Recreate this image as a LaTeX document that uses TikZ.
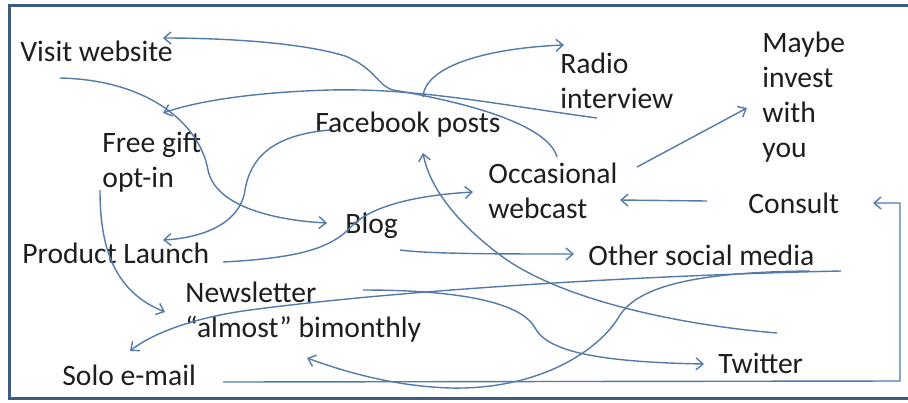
\documentclass[tikz,border=0pt]{standalone}
\usepackage{fontspec}
\setmainfont{Carlito}
\usetikzlibrary{arrows.meta}
\definecolor{rahmen}{RGB}{62,92,128}
\definecolor{linie}{RGB}{84,122,170}
\definecolor{schrift}{RGB}{30,30,30}
\tikzset{
  txt/.style={anchor=base west, inner sep=0pt, align=left, text=schrift,
    font=\fontsize{14.8pt}{17.5pt}\selectfont},
  link/.style={draw=linie, line width=0.7pt, -{Straight Barb[length=3.5pt,width=6pt]}},
}
\begin{document}
\begin{tikzpicture}[x=0.5pt, y=-0.5pt]
  \useasboundingbox (0,0) rectangle (908,402);
  % Rahmen
  \draw [rahmen, line width=1.5pt] (908,5) -- (9,5) -- (9,398) -- (908,398);
  % Begriffe (bei mehreren Zeilen: Grundlinie der letzten Zeile)
  \node [txt] (visit)    at ( 20, 61) {Visit website};
  \node [txt] (freegift) at (102,187) {Free gift\\opt-in};
  \node [txt] (facebook) at (315,132) {Facebook posts};
  \node [txt] (radio)    at (560,108) {Radio\\interview};
  \node [txt] (maybe)    at (762,157) {Maybe\\invest\\with\\you};
  \node [txt] (webcast)  at (488,218) {Occasional\\webcast};
  \node [txt] (consult)  at (748,213) {Consult};
  \node [txt] (blog)     at (345,233) {Blog};
  \node [txt] (launch)   at ( 22,263) {Product Launch};
  \node [txt] (social)   at (588,265) {Other social media};
  \node [txt] (news)     at (185,337) {Newsletter\\“almost” bimonthly};
  \node [txt] (solo)     at ( 62,385) {Solo e-mail};
  \node [txt] (twitter)  at (718,373) {Twitter};
  % Enden der Linien
  \coordinate (webcast-top) at (557,157);
  \coordinate (visit-in)    at (163, 38);
  \coordinate (radio-out)   at (597,118);
  \coordinate (gift-in)     at (163,113);
  \coordinate (fb-radio)    at (423, 97);
  \coordinate (radio-in)    at (564, 45);
  \coordinate (visit-out)   at ( 60, 78);
  \coordinate (blog-in)     at (327,223);
  \coordinate (fb-out)      at (330,130);
  \coordinate (launch-in)   at (163,240);
  \coordinate (launch-out)  at (223,262);
  \coordinate (webcast-in)  at (473,192);
  \coordinate (blog-out)    at (400,250);
  \coordinate (social-in)   at (574,254);
  \coordinate (twitter-out) at (777,333);
  \coordinate (fb-in)       at (423,153);
  \coordinate (webcast-out) at (637,167);
  \coordinate (maybe-in)    at (747,108);
  \coordinate (consult-out) at (707,201);
  \coordinate (webcast-r)   at (620,200);
  \coordinate (solo-out)    at (223,382);
  \coordinate (consult-in)  at (873,203);
  \coordinate (news-out)    at (363,290);
  \coordinate (twitter-in)  at (704,364);
  \coordinate (social-out)  at (841,271);
  \coordinate (solo-in)     at (130,351);
  \coordinate (social-out2) at (810,271);
  \coordinate (news-in)     at (307,358);
  \coordinate (gift-out)    at (100,190);
  \coordinate (news-l)      at (165,312);
  % Verbindungen
  \draw [link] (webcast-top) .. controls (548,125) and (470,103) .. (393,90)
    .. controls (378,86) and (375,68) .. (345,56)
    .. controls (300,42) and (220,38) .. (visit-in);
  \draw [link] (radio-out) .. controls (500,105) and (420,88) .. (330,90)
    .. controls (260,92) and (200,100) .. (gift-in);
  \draw [link] (fb-radio) .. controls (425,65) and (490,48) .. (radio-in);
  \draw [link] (visit-out) .. controls (150,80) and (200,125) .. (208,170)
    .. controls (215,205) and (270,220) .. (blog-in);
  \draw [link] (fb-out) .. controls (270,135) and (250,160) .. (245,190)
    .. controls (240,225) and (200,238) .. (launch-in);
  \draw [link] (launch-out) .. controls (300,258) and (330,248) .. (350,228)
    .. controls (370,205) and (420,195) .. (webcast-in);
  \draw [link] (blog-out) .. controls (430,254) and (500,254) .. (social-in);
  \draw [link] (twitter-out) .. controls (680,325) and (560,300) .. (500,255)
    .. controls (460,225) and (430,190) .. (fb-in);
  \draw [link] (webcast-out) -- (maybe-in);
  \draw [link] (consult-out) -- (webcast-r);
  \draw [link] (solo-out) -- (900,381) -- (900,203) -- (consult-in);
  \draw [link] (news-out) .. controls (450,290) and (520,300) .. (535,328)
    .. controls (548,352) and (600,362) .. (twitter-in);
  \draw [link] (social-out) .. controls (650,275) and (400,290) .. (250,310)
    .. controls (190,318) and (150,335) .. (solo-in);
  \draw [link] (social-out2) .. controls (700,272) and (640,285) .. (620,315)
    .. controls (600,350) and (540,390) .. (450,388)
    .. controls (390,386) and (340,370) .. (news-in);
  \draw [link] (gift-out) .. controls (100,240) and (110,290) .. (news-l);
\end{tikzpicture}
\end{document}
